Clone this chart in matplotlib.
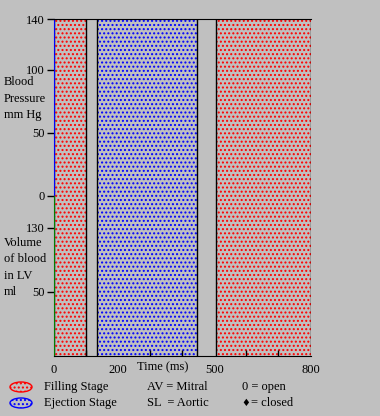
import matplotlib
matplotlib.use("Agg")
import matplotlib.pyplot as plt
from matplotlib.patches import Ellipse
from matplotlib.ticker import FixedLocator, NullFormatter

# cardiac cycle stages (ms)
stage_start = [0, 135, 506]
stage_end = [100, 447, 800]
stage_kind = ["filling", "ejection", "filling"]

pressure_ticks = [0, 50, 100, 140]
volume_ticks = [50, 130]
time_labels = [0, 200, 500, 800]
time_marks = [100, 200, 300, 400, 500, 600, 700]

bg = "#c0c0c0"
stage_color = {"filling": "#ff0000", "ejection": "#0000ff"}
serif = "Liberation Serif"

plt.rcParams["hatch.linewidth"] = 0.95
plt.rcParams["font.family"] = serif

fig = plt.figure(figsize=(3.8, 4.16), dpi=100, facecolor=bg)
W, H = 380, 416
ax_p = fig.add_axes([54 / W, (H - 196) / H, 256.5 / W, 177 / H])
ax_v = fig.add_axes([54 / W, (H - 356) / H, 256.5 / W, 160 / H])

for ax in (ax_p, ax_v):
    ax.set_facecolor(bg)
    ax.set_xlim(0, 800)
    for s, e, k in zip(stage_start, stage_end, stage_kind):
        ax.axvspan(s, e, facecolor="none", edgecolor=stage_color[k],
                   hatch="....", lw=0, zorder=1)
        ax.axvline(s, color="black", lw=1.0, zorder=1.5)
        ax.axvline(e, color="black", lw=1.0, zorder=1.5)
    ax.tick_params(axis="y", direction="out", length=5, width=1, pad=2,
                   labelsize=9)

# pressure panel
ax_p.set_ylim(0, 140)
ax_p.set_yticks(pressure_ticks)
ax_p.set_xticks([])
ax_p.spines["left"].set_color("#0000ff")
ax_p.spines["bottom"].set_visible(False)
ax_p.spines["right"].set_visible(False)
ax_p.spines["top"].set_color("black")

# volume panel
ax_v.set_ylim(-30, 170)
ax_v.set_yticks(volume_ticks)
ax_v.spines["left"].set_color("#008000")
ax_v.spines["top"].set_visible(False)
ax_v.spines["right"].set_visible(False)
ax_v.xaxis.set_major_locator(FixedLocator(time_labels))
ax_v.xaxis.set_minor_locator(FixedLocator(time_marks))
ax_v.xaxis.set_minor_formatter(NullFormatter())
ax_v.tick_params(axis="x", which="major", length=0, pad=6, labelsize=9)
ax_v.tick_params(axis="x", which="minor", direction="in", length=4,
                 width=1, color="black")
ax_v.text(340, -0.035, "Time (ms)", transform=ax_v.get_xaxis_transform(),
          ha="center", va="top", fontsize=9)

# side labels
for i, t in enumerate(["Blood", "Pressure", "mm Hg"]):
    fig.text(4 / W, 1 - (82 + i * 16.5) / H, t, ha="left", va="center",
             fontsize=9)
for i, t in enumerate(["Volume", "of blood", "in LV", "ml"]):
    fig.text(4 / W, 1 - (243 + i * 16.3) / H, t, ha="left", va="center",
             fontsize=9)

# legend
for y, k in [(387, "filling"), (403, "ejection")]:
    fig.add_artist(Ellipse((21 / W, 1 - y / H), 22 / W, 10 / H,
                           transform=fig.transFigure, facecolor="none",
                           edgecolor=stage_color[k], hatch="....", lw=1))
fig.text(44 / W, 1 - 387 / H, "Filling Stage", va="center", fontsize=9)
fig.text(44 / W, 1 - 403 / H, "Ejection Stage", va="center", fontsize=9)
fig.text(147 / W, 1 - 387 / H, "AV = Mitral", va="center", fontsize=9)
fig.text(147 / W, 1 - 403 / H, "SL  = Aortic", va="center", fontsize=9)
fig.text(242 / W, 1 - 387 / H, "0 = open", va="center", fontsize=9)
fig.text(241 / W, 1 - 403 / H, "\u2666", va="center", fontsize=7,
         family="DejaVu Sans")
fig.text(251 / W, 1 - 403 / H, "= closed", va="center", fontsize=9)

fig.savefig("out.png", dpi=100, facecolor=bg)
